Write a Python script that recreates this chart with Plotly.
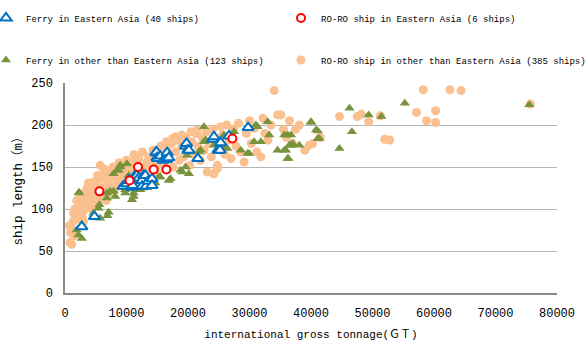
import plotly.graph_objects as go

# ---- data (gross tonnage GT, ship length m) ----
ferry_ea_gt = [2727, 4790, 9420, 10000, 10340, 10890, 11000, 11430, 11700, 12000,
               12520, 12520, 12790, 13070, 13180, 13500, 14150, 14150, 14810, 14860,
               14970, 15070, 15500, 16000, 16490, 16500, 16600, 16870, 19600, 19760,
               19970, 20140, 21600, 24000, 24220, 24870, 25200, 25310, 26670, 29770]
ferry_ea_len = [79, 91, 127, 130, 134, 126, 128, 140, 140, 137,
                134, 127, 140, 140, 127, 133, 136, 128, 167, 168,
                161, 160, 163, 158, 159, 160, 167, 161, 175, 178,
                170, 170, 160, 183, 186, 170, 170, 179, 187, 197]

roro_ea_gt = [5600, 10500, 11870, 14420, 16490, 27220]
roro_ea_len = [121, 134, 150, 147, 147, 184]

ferry_other_gt = [1900, 2180, 2450, 2730, 2290, 2250, 4620, 5440, 5600, 5720,
                  6910, 7100, 6810, 6810, 7350, 7890, 8160, 8440, 8710, 8980,
                  8980, 9800, 9800, 10080, 10340, 10890, 11160, 11160, 12250, 14700,
                  15510, 17150, 19060, 19600, 20140, 19870, 22050, 22590, 22590, 22860,
                  24220, 25590, 25850, 26400, 27490, 28580, 29670, 29940, 30750, 31850,
                  31030, 31300, 32940, 33200, 34570, 35650, 35930, 36200, 36310, 35650,
                  36200, 36740, 36740, 37010, 36470, 38100, 40000, 40000, 40830, 41100,
                  41100, 41370, 44630, 46260, 46650, 49370, 51440, 55250, 75500, 7890,
                  11970, 11430, 12790, 15240, 16870, 18780, 21770, 25040, 13500, 14000]
ferry_other_len = [75, 69, 79, 65, 120, 119, 95, 101, 105, 89,
                   92, 96, 119, 113, 121, 121, 115, 146, 146, 152,
                   150, 119, 123, 154, 140, 111, 115, 119, 123, 131,
                   138, 136, 144, 150, 142, 164, 170, 198, 180, 182,
                   176, 174, 188, 172, 192, 170, 166, 166, 180, 180,
                   200, 198, 204, 188, 170, 170, 170, 160, 160, 188,
                   188, 188, 176, 178, 176, 176, 204, 203, 194, 193,
                   184, 184, 172, 220, 192, 212, 210, 226, 224, 142,
                   150, 132, 125, 138, 134, 146, 168, 176, 128, 135]

roro_other_gt = [800, 1100, 900, 1200, 1500, 1300, 1700, 2000, 1600, 2200,
                 2500, 1900, 2800, 3000, 3200, 2600, 3500, 3800, 4000, 3600,
                 3810, 4300, 4500, 4800, 5000, 5200, 5500, 5720, 6000, 6200,
                 6500, 6800, 7000, 7200, 7500, 7800, 8000, 8200, 8500, 8800,
                 9000, 9200, 9500, 9800, 10000, 10200, 10500, 10800, 11000, 11200,
                 11500, 11800, 12000, 12300, 12600, 13000, 13300, 13600, 14000, 14300,
                 14600, 15000, 15300, 15600, 16000, 16300, 16600, 17000, 17300, 17600,
                 18000, 18300, 18600, 19000, 19300, 19600, 20000, 20300, 20600, 21000,
                 21300, 21600, 22000, 22300, 22600, 23000, 23140, 23400, 23800, 24000,
                 24400, 24770, 25000, 25300, 25600, 26000, 26300, 26700, 27000, 27400,
                 27800, 28200, 28500, 29120, 29500, 30000, 30300, 30800, 31200, 31850,
                 32200, 32500, 33000, 33500, 34020, 34570, 35110, 35500, 36000, 36500,
                 37000, 37500, 38100, 39000, 39730, 40290, 41500, 44630, 47520, 48170,
                 49370, 51280, 51980, 52800, 57160, 58250, 58790, 60260, 60260, 62600,
                 64400, 75660, 24220, 24770, 18000, 19000, 20500, 16500, 17500, 21500,
                 700, 1400, 2300, 2900, 3300, 4100, 4700, 5300, 6300, 6700,
                 7300, 8300, 9300, 10700, 12800, 14800, 3000, 4400, 6100, 8600]
roro_other_len = [60, 58, 72, 75, 68, 85, 90, 88, 100, 95,
                  102, 110, 90, 98, 108, 115, 112, 104, 118, 125,
                  131, 110, 122, 115, 128, 108, 135, 152, 125, 140,
                  118, 132, 145, 128, 138, 150, 122, 142, 135, 155,
                  128, 145, 150, 138, 158, 132, 148, 142, 155, 165,
                  138, 150, 160, 145, 168, 140, 155, 162, 148, 170,
                  158, 142, 165, 175, 155, 148, 170, 160, 178, 150,
                  168, 182, 158, 175, 162, 185, 170, 152, 180, 165,
                  190, 175, 158, 185, 170, 192, 144, 178, 162, 195,
                  183, 148, 172, 198, 188, 165, 200, 182, 160, 195,
                  175, 202, 168, 156, 190, 205, 178, 196, 168, 162,
                  208, 190, 182, 200, 241, 212, 212, 195, 185, 205,
                  178, 195, 200, 170, 176, 178, 185, 210, 210, 213,
                  204, 211, 183, 182, 215, 242, 205, 217, 203, 242,
                  241, 225, 142, 152, 186, 188, 192, 180, 184, 194,
                  80, 95, 105, 118, 120, 128, 132, 140, 148, 110,
                  120, 128, 135, 130, 150, 150, 85, 100, 112, 148]

x_ticks = [0, 10000, 20000, 30000, 40000, 50000, 60000, 70000, 80000]
y_ticks = [0, 50, 100, 150, 200, 250]

FONT = "Liberation Mono, Noto Sans CJK JP, monospace"

fig = go.Figure()
fig.add_trace(go.Scatter(
    x=roro_other_gt, y=roro_other_len, mode="markers",
    name="RO-RO ship in other than Eastern Asia (385 ships)", legend="legend4",
    marker=dict(symbol="circle", size=9, color="#FAC090", line=dict(width=0))))
fig.add_trace(go.Scatter(
    x=ferry_other_gt, y=ferry_other_len, mode="markers",
    name="Ferry in other than Eastern Asia (123 ships)", legend="legend3",
    marker=dict(symbol="triangle-up", size=9, color="#77933C", line=dict(width=0))))
fig.add_trace(go.Scatter(
    x=ferry_ea_gt, y=ferry_ea_len, mode="markers",
    name="Ferry in Eastern Asia (40 ships)", legend="legend",
    marker=dict(symbol="triangle-up", size=10, color="white",
                line=dict(width=2, color="#0070C0"))))
fig.add_trace(go.Scatter(
    x=roro_ea_gt, y=roro_ea_len, mode="markers",
    name="RO-RO ship in Eastern Asia (6 ships)", legend="legend2",
    marker=dict(symbol="circle", size=8, color="white",
                line=dict(width=2, color="#FF0000"))))

L, R, T, B = 65, 31, 83, 51
pw, ph = 588 - L - R, 344 - T - B

def px2x(p):
    return (p - L) / pw

def py2y(p):
    return (344 - B - p) / ph

leg_common = dict(font=dict(family=FONT, size=9, color="#000000"),
                  bgcolor="rgba(0,0,0,0)", borderwidth=0,
                  xanchor="left", yanchor="middle", itemwidth=30)

fig.update_layout(
    width=588, height=344,
    margin=dict(l=L, r=R, t=T, b=B, autoexpand=False),
    paper_bgcolor="white", plot_bgcolor="white",
    font=dict(family=FONT, size=12, color="#000000"),
    showlegend=True,
    legend=dict(x=px2x(-14), y=py2y(18), **leg_common),
    legend2=dict(x=px2x(281), y=py2y(18), **leg_common),
    legend3=dict(x=px2x(-14), y=py2y(60), **leg_common),
    legend4=dict(x=px2x(281), y=py2y(60), **leg_common),
    xaxis=dict(range=[0, 80000], tickvals=x_ticks,
               ticktext=[str(v) for v in x_ticks],
               showgrid=False, zeroline=False,
               showline=True, linecolor="#898989", linewidth=1.5,
               ticks="", ticklabelstandoff=8,
               tickfont=dict(family=FONT, size=12),
               title=dict(text="international gross tonnage(ＧＴ)",
                          font=dict(family=FONT, size=11), standoff=10)),
    yaxis=dict(range=[0, 250], tickvals=y_ticks,
               showgrid=True, gridcolor="#B4B4B4", gridwidth=1,
               zeroline=False,
               showline=True, linecolor="#898989", linewidth=1.5,
               ticks="", ticklabelstandoff=8,
               tickfont=dict(family=FONT, size=12),
               title=dict(text="ship length（m）",
                          font=dict(family=FONT, size=12.5), standoff=6)),
)

fig.write_html("out.html", config={"displayModeBar": False},
               post_script="document.body.style.margin='0';document.body.style.padding='0';")
